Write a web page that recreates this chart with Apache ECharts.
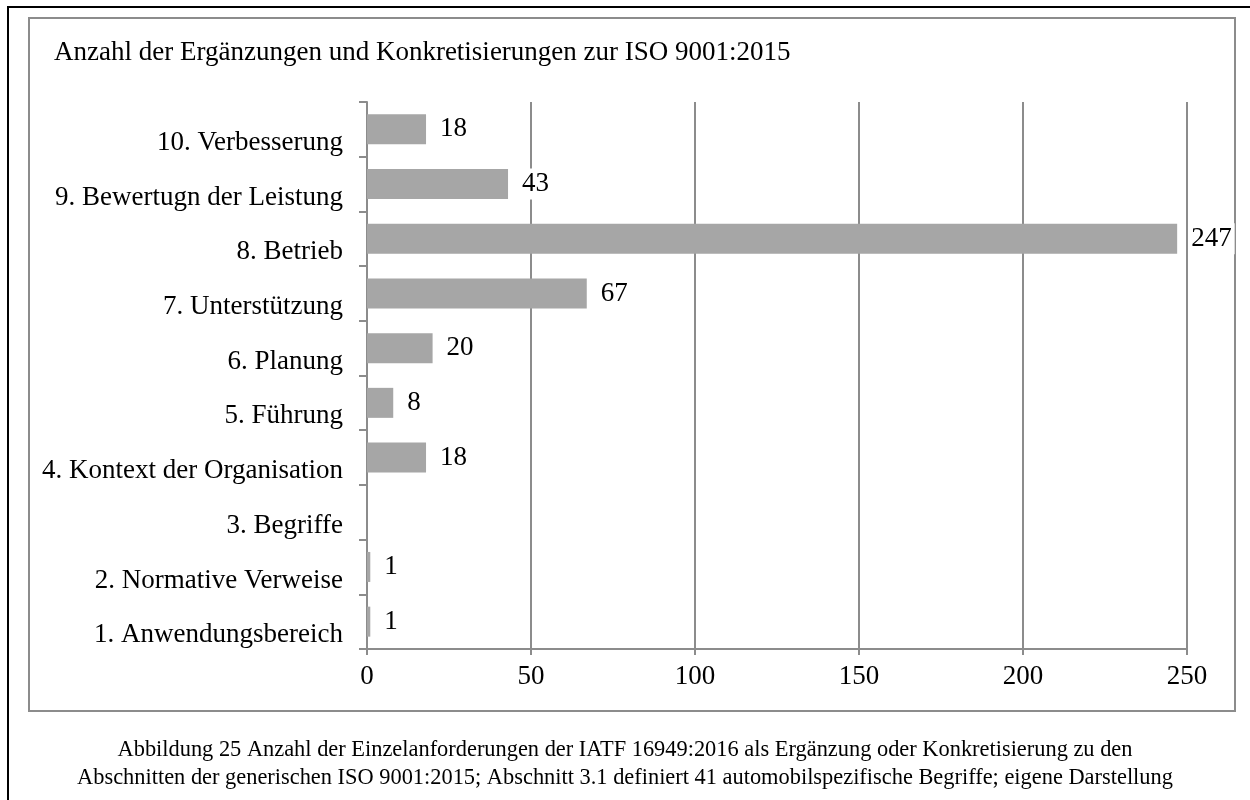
<!DOCTYPE html>
<html>
<head>
<meta charset="utf-8">
<script src="https://cdn.jsdelivr.net/npm/echarts@6/dist/echarts.min.js"></script>
<style>
html,body{margin:0;padding:0;background:#fff;}
#chart{width:1250px;height:800px;}
</style>
</head>
<body>
<div id="chart"></div>
<script>
const categories = [
  "1. Anwendungsbereich",
  "2. Normative Verweise",
  "3. Begriffe",
  "4. Kontext der Organisation",
  "5. Führung",
  "6. Planung",
  "7. Unterstützung",
  "8. Betrieb",
  "9. Bewertugn der Leistung",
  "10. Verbesserung"
];
const values = [1, 1, 0, 18, 8, 20, 67, 247, 43, 18];
const xTicks = [0, 50, 100, 150, 200, 250];
const titleText = "Anzahl der Ergänzungen und Konkretisierungen zur ISO 9001:2015";
const captionLines = [
  "Abbildung 25 Anzahl der Einzelanforderungen der IATF 16949:2016 als Ergänzung oder Konkretisierung zu den",
  "Abschnitten der generischen ISO 9001:2015; Abschnitt 3.1 definiert 41 automobilspezifische Begriffe; eigene Darstellung"
];

const FONT = "'Liberation Serif', 'Times New Roman', serif";
const chart = echarts.init(document.getElementById('chart'));
const gray = '#8c8c8c';

chart.setOption({
  backgroundColor: '#fff',
  animation: false,
  title: {
    text: titleText,
    left: 49,
    top: 34,
    textStyle: { fontFamily: FONT, fontSize: 27, fontWeight: 'normal', color: '#000' }
  },
  grid: { left: 367, right: 63, top: 102, bottom: 151, containLabel: false },
  xAxis: {
    type: 'value',
    min: xTicks[0],
    max: xTicks[xTicks.length - 1],
    interval: xTicks[1] - xTicks[0],
    axisLine: { show: true, lineStyle: { color: gray, width: 2 } },
    axisTick: { show: true, length: 6, lineStyle: { color: gray, width: 2 } },
    splitLine: { show: true, lineStyle: { color: gray, width: 2 } },
    axisLabel: { fontFamily: FONT, fontSize: 27, color: '#000', margin: 14 }
  },
  yAxis: {
    type: 'category',
    data: categories,
    axisLine: { show: true, lineStyle: { color: gray, width: 2 } },
    axisTick: { show: true, length: 8, lineStyle: { color: gray, width: 2 } },
    axisLabel: { fontFamily: FONT, fontSize: 27, color: '#000', margin: 24, verticalAlign: 'top', lineHeight: 27 }
  },
  series: [{
    type: 'bar',
    data: values,
    barWidth: 30,
    itemStyle: { color: '#a6a6a6' },
    label: {
      show: true,
      position: 'right',
      distance: 11,
      fontFamily: FONT,
      fontSize: 27,
      color: '#000',
      backgroundColor: '#fff',
      padding: [2, 3],
      formatter: p => (p.value === 0 ? '' : String(p.value))
    }
  }],
  graphic: [
    { type: 'rect', shape: { x: 8, y: 7, width: 1400, height: 1000 }, style: { fill: null, stroke: '#000', lineWidth: 2 }, silent: true },
    { type: 'rect', shape: { x: 29, y: 18, width: 1206, height: 693 }, style: { fill: null, stroke: gray, lineWidth: 2 }, silent: true, z: -1 },
    { type: 'text', x: 625, y: 750, style: { text: captionLines[0], fontFamily: FONT, fontSize: 22.4, fill: '#000', textAlign: 'center', textVerticalAlign: 'middle' } },
    { type: 'text', x: 625, y: 778, style: { text: captionLines[1], fontFamily: FONT, fontSize: 22.4, fill: '#000', textAlign: 'center', textVerticalAlign: 'middle' } }
  ]
});
</script>
</body>
</html>
